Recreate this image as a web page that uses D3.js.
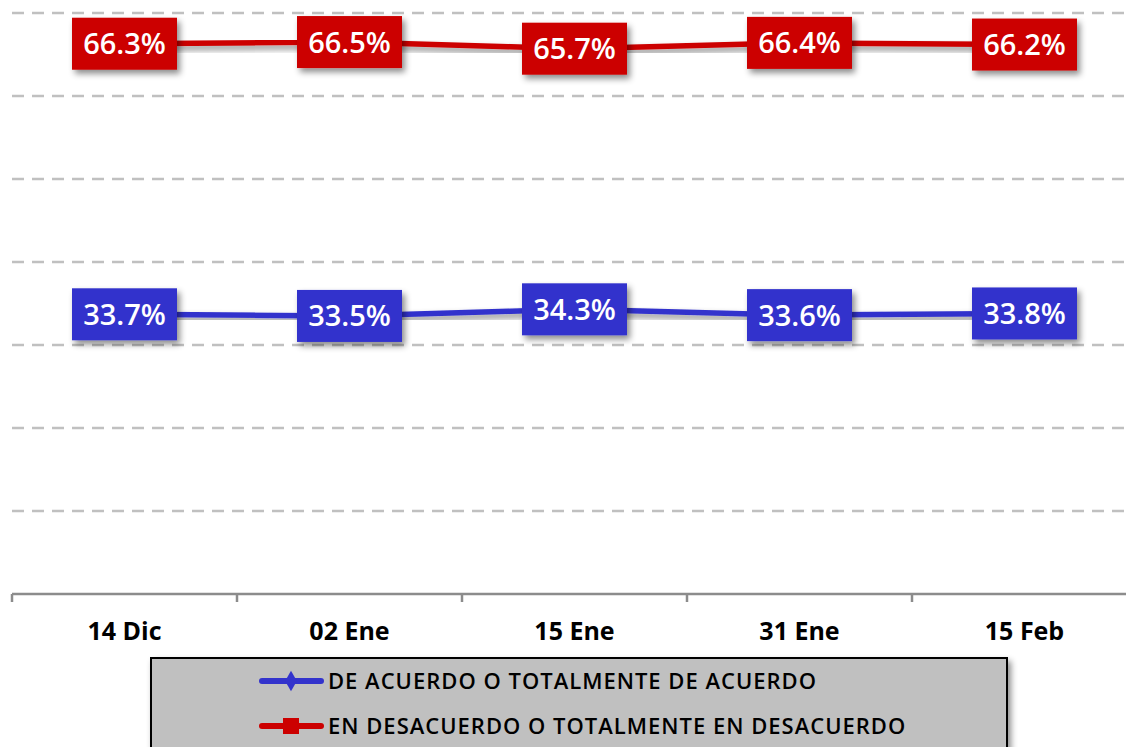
<!DOCTYPE html>
<html>
<head>
<meta charset="utf-8">
<script src="https://cdn.jsdelivr.net/npm/d3@7"></script>
<style>
body{margin:0;background:#fff;}
svg{display:block;font-family:"Open Sans",sans-serif;}
</style>
</head>
<body>
<svg id="chart"></svg>
<script>
var categories=["14 Dic","02 Ene","15 Ene","31 Ene","15 Feb"];
var deAcuerdo=[33.7,33.5,34.3,33.6,33.8];
var desacuerdo=[66.3,66.5,65.7,66.4,66.2];
var gridTicks=[10,20,30,40,50,60,70];
var seriesNames=["DE ACUERDO O TOTALMENTE DE ACUERDO","EN DESACUERDO O TOTALMENTE EN DESACUERDO"];

var w=1126,h=747;
var svg=d3.select("#chart").attr("width",w).attr("height",h);

var defs=svg.append("defs");
var f=defs.append("filter").attr("id","shadow")
          .attr("x","-20%").attr("y","-30%").attr("width","150%").attr("height","190%");
f.append("feDropShadow").attr("dx",3).attr("dy",4).attr("stdDeviation",3)
 .attr("flood-color","#000").attr("flood-opacity",0.45);

var xScale=d3.scaleBand().domain(categories).range([12,1137]);
var yScale=d3.scaleLinear().domain([0,70]).range([594,13]);

// gridlines
svg.append("g").selectAll("line")
   .data(gridTicks).enter().append("line")
   .attr("x1",12).attr("x2",1137)
   .attr("y1",function(d){return yScale(d);})
   .attr("y2",function(d){return yScale(d);})
   .attr("stroke","#c0c0c0").attr("stroke-width",2.5)
   .attr("stroke-dasharray","12,8");

// x axis
var xAxis=d3.axisBottom(xScale).tickSize(0).tickPadding(28);
var gx=svg.append("g").attr("transform","translate(0,"+yScale(0)+")").call(xAxis);
gx.select(".domain").remove();
gx.selectAll("text").attr("font-size",25).attr("font-weight","bold")
  .attr("fill","#000").attr("font-family","'Open Sans',sans-serif");
gx.append("line").attr("x1",12).attr("x2",1137).attr("y1",0).attr("y2",0)
  .attr("stroke","#8c8c8c").attr("stroke-width",2.5);
var bounds=categories.map(function(c){return xScale(c);});
gx.selectAll(".bound").data(bounds).enter().append("line")
  .attr("x1",function(d){return d;}).attr("x2",function(d){return d;})
  .attr("y1",0).attr("y2",8)
  .attr("stroke","#8c8c8c").attr("stroke-width",2.5);

var series=[
  {name:seriesNames[0],values:deAcuerdo,color:"#3333cc"},
  {name:seriesNames[1],values:desacuerdo,color:"#cc0000"}
];

var line=d3.line()
  .x(function(d,i){return xScale(categories[i])+xScale.bandwidth()/2;})
  .y(function(d){return yScale(d);});

series.forEach(function(s){
  var g=svg.append("g");
  g.append("path").datum(s.values)
   .attr("d",line).attr("fill","none")
   .attr("stroke",s.color).attr("stroke-width",5.5)
   .attr("filter","url(#shadow)");
  var lab=g.selectAll(".lab").data(s.values).enter().append("g")
    .attr("transform",function(d,i){
      return "translate("+(xScale(categories[i])+xScale.bandwidth()/2)+","+yScale(d)+")";
    });
  lab.append("rect").attr("x",-52.5).attr("y",-26).attr("width",105).attr("height",52)
     .attr("fill",s.color).attr("filter","url(#shadow)");
  lab.append("text").attr("text-anchor","middle").attr("dy","0.36em")
     .attr("fill","#fff").attr("font-size",29).attr("font-weight",600)
     .text(function(d){return d.toFixed(1)+"%";});
});

// legend
var leg=svg.append("g");
leg.append("rect").attr("x",151).attr("y",658).attr("width",856).attr("height",110)
   .attr("fill","#c0c0c0").attr("stroke","#000").attr("stroke-width",2)
   .attr("filter","url(#shadow)");
var items=leg.selectAll(".item").data(series).enter().append("g")
   .attr("transform",function(d,i){return "translate(0,"+(681+i*45)+")";});
items.append("line").attr("x1",262).attr("x2",321).attr("y1",0).attr("y2",0)
   .attr("stroke",function(d){return d.color;}).attr("stroke-width",6)
   .attr("stroke-linecap","round");
items.each(function(d,i){
  var g=d3.select(this);
  if(i===0){
    g.append("path").attr("d",d3.symbol().type(d3.symbolDiamond).size(120)())
     .attr("transform","translate(291,0)").attr("fill",d.color);
  }else{
    g.append("rect").attr("x",283).attr("y",-8).attr("width",16).attr("height",16)
     .attr("fill",d.color);
  }
});
items.append("text").attr("x",328).attr("dy","0.36em")
   .attr("font-size",22).attr("font-weight",600).attr("letter-spacing",1)
   .attr("fill","#000")
   .text(function(d){return d.name;});
</script>
</body>
</html>
